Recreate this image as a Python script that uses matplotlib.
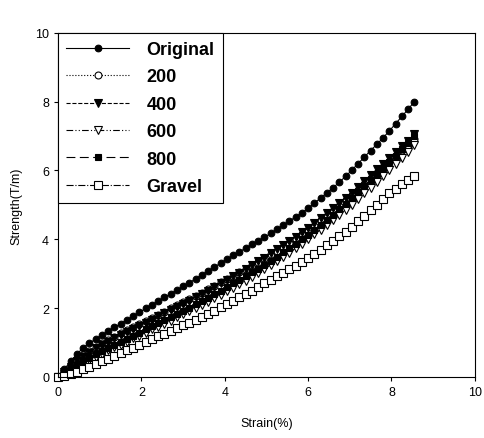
import numpy as np
import matplotlib
matplotlib.use("Agg")
import matplotlib.pyplot as plt

plt.rcParams['font.family'] = ['Liberation Sans', 'DejaVu Sans']

strain = [0.0, 0.15, 0.3, 0.45, 0.6, 0.75, 0.9, 1.05, 1.2, 1.35, 1.5, 1.65, 1.8, 1.95,
          2.1, 2.25, 2.4, 2.55, 2.7, 2.85, 3.0, 3.15, 3.3, 3.45, 3.6, 3.75, 3.9, 4.05,
          4.2, 4.35, 4.5, 4.65, 4.8, 4.95, 5.1, 5.25, 5.4, 5.55, 5.7, 5.85, 6.0, 6.15,
          6.3, 6.45, 6.6, 6.75, 6.9, 7.05, 7.2, 7.35, 7.5, 7.65, 7.8, 7.95, 8.1, 8.25,
          8.4, 8.55]

original = [0, 0.23, 0.45, 0.66, 0.85, 0.98, 1.10, 1.22, 1.33, 1.44, 1.55, 1.66, 1.77, 1.88,
            1.99, 2.10, 2.20, 2.31, 2.42, 2.52, 2.63, 2.74, 2.85, 2.97, 3.08, 3.19, 3.31, 3.42,
            3.53, 3.64, 3.74, 3.85, 3.95, 4.06, 4.17, 4.29, 4.41, 4.53, 4.65, 4.77, 4.90, 5.05,
            5.20, 5.35, 5.50, 5.66, 5.83, 6.01, 6.20, 6.39, 6.58, 6.76, 6.95, 7.15, 7.36, 7.57,
            7.78, 8.00]
s200 = [0, 0.17, 0.33, 0.49, 0.63, 0.76, 0.88, 0.98, 1.08, 1.17, 1.27, 1.36, 1.45, 1.54,
        1.63, 1.72, 1.81, 1.90, 1.99, 2.08, 2.17, 2.26, 2.36, 2.45, 2.55, 2.65, 2.75, 2.84,
        2.94, 3.04, 3.14, 3.24, 3.34, 3.45, 3.56, 3.67, 3.78, 3.90, 4.02, 4.14, 4.27, 4.40,
        4.55, 4.69, 4.83, 4.98, 5.13, 5.28, 5.44, 5.60, 5.77, 5.93, 6.10, 6.26, 6.43, 6.59,
        6.75, 6.90]
s400 = [0, 0.15, 0.30, 0.45, 0.58, 0.71, 0.83, 0.93, 1.03, 1.12, 1.22, 1.31, 1.40, 1.49,
        1.58, 1.67, 1.76, 1.85, 1.94, 2.03, 2.12, 2.22, 2.32, 2.41, 2.51, 2.62, 2.72, 2.83,
        2.93, 3.03, 3.14, 3.25, 3.36, 3.47, 3.59, 3.71, 3.83, 3.95, 4.07, 4.20, 4.33, 4.47,
        4.62, 4.76, 4.90, 5.05, 5.20, 5.36, 5.53, 5.69, 5.86, 6.03, 6.20, 6.37, 6.54, 6.71,
        6.87, 7.05]
s600 = [0, 0.10, 0.20, 0.30, 0.40, 0.50, 0.59, 0.68, 0.77, 0.86, 0.94, 1.03, 1.12, 1.20,
        1.29, 1.38, 1.46, 1.55, 1.64, 1.73, 1.82, 1.91, 2.00, 2.09, 2.19, 2.29, 2.39, 2.49,
        2.59, 2.70, 2.80, 2.91, 3.02, 3.13, 3.25, 3.37, 3.49, 3.61, 3.74, 3.87, 4.00, 4.14,
        4.28, 4.42, 4.56, 4.71, 4.86, 5.01, 5.17, 5.34, 5.50, 5.66, 5.83, 6.00, 6.18, 6.36,
        6.55, 6.75]
s800 = [0, 0.11, 0.23, 0.34, 0.45, 0.56, 0.66, 0.75, 0.84, 0.93, 1.02, 1.11, 1.20, 1.29,
        1.38, 1.47, 1.56, 1.65, 1.74, 1.83, 1.92, 2.01, 2.11, 2.20, 2.30, 2.41, 2.51, 2.62,
        2.72, 2.83, 2.93, 3.04, 3.15, 3.26, 3.38, 3.50, 3.62, 3.75, 3.87, 4.00, 4.13, 4.27,
        4.42, 4.57, 4.72, 4.88, 5.04, 5.20, 5.37, 5.54, 5.72, 5.89, 6.07, 6.25, 6.43, 6.62,
        6.80, 7.00]
gravel = [0, 0.04, 0.09, 0.15, 0.22, 0.29, 0.37, 0.45, 0.53, 0.61, 0.69, 0.77, 0.85, 0.93,
          1.01, 1.10, 1.18, 1.26, 1.34, 1.42, 1.50, 1.58, 1.66, 1.75, 1.84, 1.93, 2.02, 2.11,
          2.21, 2.31, 2.40, 2.50, 2.61, 2.72, 2.82, 2.92, 3.02, 3.13, 3.23, 3.34, 3.45, 3.58,
          3.70, 3.83, 3.96, 4.09, 4.22, 4.35, 4.52, 4.68, 4.85, 5.01, 5.18, 5.34, 5.45, 5.60,
          5.72, 5.85]

labels = ['Original', '200', '400', '600', '800', 'Gravel']
series = [original, s200, s400, s600, s800, gravel]
markers = ['o', 'o', 'v', 'v', 's', 's']
sizes = [4.8, 5, 5.5, 5.5, 5, 5.5]
fills = ['black', 'white', 'black', 'white', 'black', 'white']
styles = ['-', ':', '--', (0, (6, 2, 1, 2, 1, 2)), (0, (8, 4)), '-.']

fig = plt.figure(figsize=(4.84, 4.39), dpi=100)
ax = fig.add_axes([0.12, 0.139, 0.861, 0.784])

for ys, lab, m, sz, fc, ls in zip(series, labels, markers, sizes, fills, styles):
    ax.plot(strain, ys, linestyle=ls, color='black', lw=0.8, marker=m, ms=sz,
            mfc=fc, mec='black', mew=0.8, label=lab, clip_on=False)

ax.set_xlim(0, 10)
ax.set_ylim(0, 10)
ax.set_xticks([0, 2, 4, 6, 8, 10])
ax.set_yticks([0, 2, 4, 6, 8, 10])
ax.tick_params(direction='out', length=3, labelsize=9, width=0.8)
ax.set_xlabel('Strain(%)', fontsize=9, labelpad=14)
ax.set_ylabel('Strength(T/m)', fontsize=9, labelpad=9)

leg = ax.legend(loc='upper left', prop={'weight': 'bold', 'size': 13}, handlelength=3.5,
                labelspacing=0.58, borderaxespad=0, fancybox=False, framealpha=1,
                edgecolor='black', borderpad=0.45, handletextpad=0.95)
leg.get_frame().set_linewidth(0.8)
leg.set_zorder(5)

fig.savefig('out.png', dpi=100)
